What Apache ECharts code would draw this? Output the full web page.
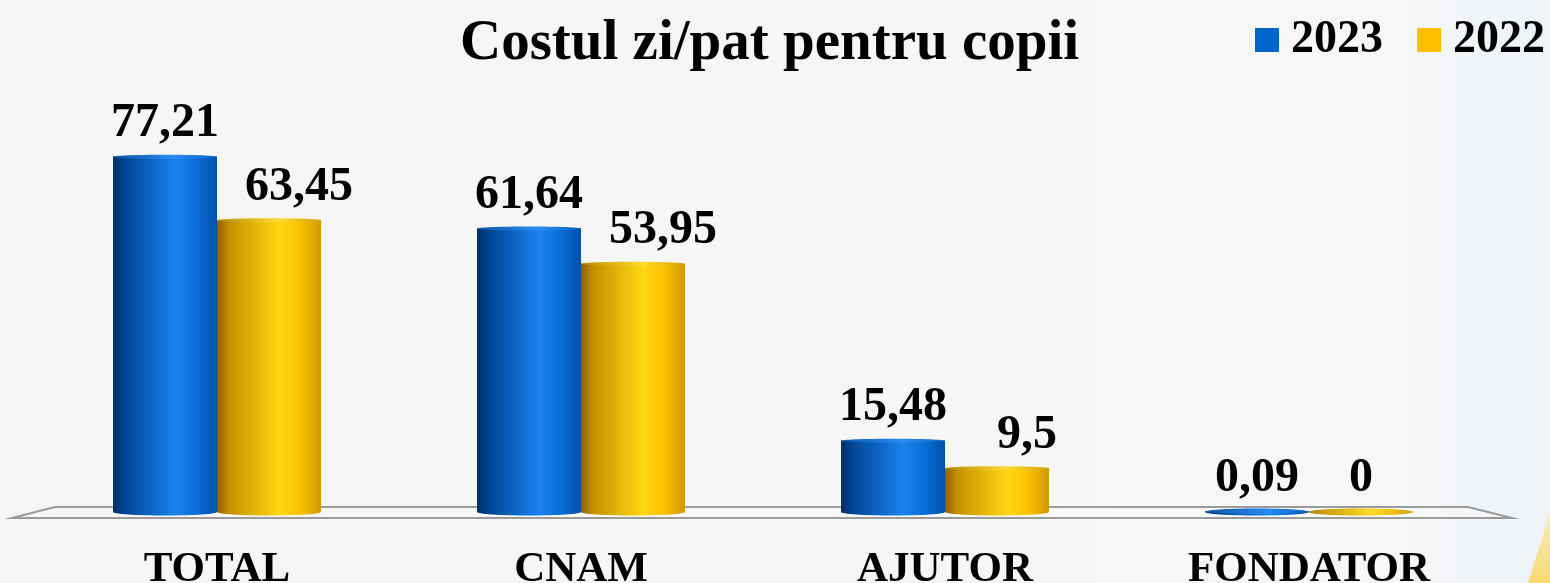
<!DOCTYPE html>
<html>
<head>
<meta charset="utf-8">
<script src="https://cdn.jsdelivr.net/npm/echarts@6/dist/echarts.min.js"></script>
<style>
html,body{margin:0;padding:0;background:#f5f5f5;}
#c{width:1550px;height:583px;}
</style>
</head>
<body>
<div id="c"></div>
<script>
const categories = ['TOTAL', 'CNAM', 'AJUTOR', 'FONDATOR'];
const values2023 = [77.21, 61.64, 15.48, 0.09];
const values2022 = [63.45, 53.95, 9.5, 0];
const seriesNames = ['2023', '2022'];

const FONT = '"Liberation Serif", "Times New Roman", serif';

const palettes = [
  { legend: '#0066cc', stops: ['#002d66', '#004696', '#1a82ee', '#0a6ed6', '#0050a8'], cap: ['#0f56a6', '#2a8cf4', '#0f60bc'] },
  { legend: '#ffc000', stops: ['#8a6200', '#c49200', '#ffd814', '#fcc200', '#cf9900'], cap: ['#b88a00', '#ffdc30', '#d4a000'] }
];
const OFFS = [0, 0.12, 0.6, 0.8, 1];

function grad(stops) {
  return new echarts.graphic.LinearGradient(0, 0, 1, 0,
    stops.map((c, i) => ({ offset: OFFS[i], color: c })));
}

function fmt(v) { return String(v).replace('.', ','); }

function makeRender(si) {
  return function (params, api) {
    const cat = api.value(0);
    const val = api.value(1);
    const base = api.coord([cat, 0]);
    const top = api.coord([cat, val]);
    const bw = api.size([1, 0])[0] * 0.2857;
    const x = base[0] + (si === 0 ? -bw : 0);
    const cx = x + bw / 2;
    const pal = palettes[si];
    const h = Math.max(0, base[1] - top[1]);
    const labelDx = (si === 1 && val > 1) ? 30 : 0;
    return {
      type: 'group',
      children: [
        { type: 'ellipse', shape: { cx: cx, cy: base[1], rx: bw / 2, ry: 3.5 }, style: { fill: grad(pal.stops) } },
        { type: 'rect', shape: { x: x, y: top[1], width: bw, height: h }, style: { fill: grad(pal.stops) } },
        { type: 'ellipse', shape: { cx: cx, cy: top[1], rx: bw / 2, ry: 2 },
          style: { fill: new echarts.graphic.LinearGradient(0, 0, 1, 0, [
            { offset: 0, color: pal.cap[0] }, { offset: 0.6, color: pal.cap[1] }, { offset: 1, color: pal.cap[2] }]) } },
        { type: 'text', x: cx + labelDx, y: top[1] - 9,
          style: { text: fmt(val), textAlign: 'center', textVerticalAlign: 'bottom',
            font: 'bold 48px ' + FONT, fill: '#000' } }
      ]
    };
  };
}

const chart = echarts.init(document.getElementById('c'), null, { renderer: 'canvas' });

chart.setOption({
  backgroundColor: new echarts.graphic.LinearGradient(0, 0, 1, 0, [
    { offset: 0, color: '#f5f5f5' }, { offset: 0.9, color: '#f6f7f8' }, { offset: 1, color: '#eef3f8' }]),
  animation: false,
  title: {
    text: 'Costul zi/pat pentru copii',
    left: 455, top: 11,
    textStyle: { fontFamily: FONT, fontWeight: 'bold', fontSize: 57, color: '#000' }
  },
  legend: {
    data: seriesNames,
    left: 1250, top: 12,
    itemWidth: 24, itemHeight: 24, itemGap: 34,
    icon: 'rect',
    textStyle: { fontFamily: FONT, fontWeight: 'bold', fontSize: 46, color: '#000', padding: [0, 0, 0, 7] }
  },
  grid: { left: 35, right: 59, top: 52, bottom: 71, containLabel: false, outerBoundsMode: 'none' },
  xAxis: {
    type: 'category',
    data: categories,
    axisLine: { show: false },
    axisTick: { show: false },
    axisLabel: { margin: 36, fontFamily: FONT, fontWeight: 'bold', fontSize: 43, color: '#000' }
  },
  yAxis: { type: 'value', min: 0, max: 100, show: false, splitLine: { show: false } },
  graphic: [
    { type: 'polygon', z: -1, silent: true,
      shape: { points: [[12, 518], [55, 507], [1468, 507], [1512, 518]] },
      style: { fill: 'rgba(255,255,255,0.25)', stroke: '#9a9a9a', lineWidth: 2 } },
    { type: 'polygon', z: -2, silent: true,
      shape: { points: [[1528, 583], [1550, 512], [1550, 583]] },
      style: { fill: new echarts.graphic.LinearGradient(0, 0, 1, 1, [
        { offset: 0, color: 'rgba(250,232,160,0.6)' }, { offset: 1, color: '#f7d86a' }]) } }
  ],
  series: [
    { name: seriesNames[0], type: 'custom', itemStyle: { color: palettes[0].legend },
      data: values2023.map((v, i) => [i, v]), renderItem: makeRender(0), z: 3 },
    { name: seriesNames[1], type: 'custom', itemStyle: { color: palettes[1].legend },
      data: values2022.map((v, i) => [i, v]), renderItem: makeRender(1), z: 2 }
  ]
});
</script>
</body>
</html>
